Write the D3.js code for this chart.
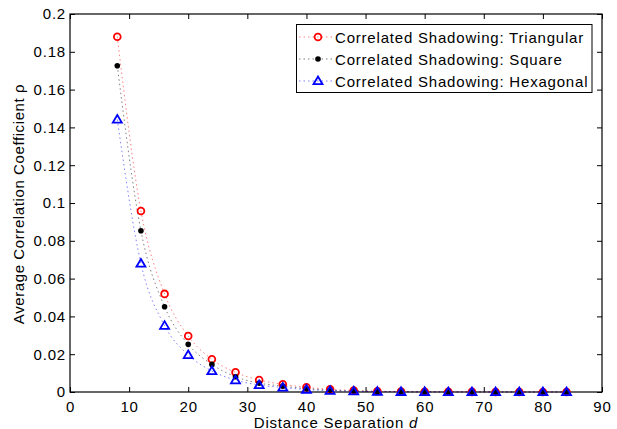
<!DOCTYPE html>
<html>
<head>
<meta charset="utf-8">
<script src="https://cdn.jsdelivr.net/npm/d3@7"></script>
<style>
  body { margin: 0; background: #fff; }
  svg { display: block; font-family: "Liberation Sans", Arial, Helvetica, sans-serif; letter-spacing: 0.8px; }
  .tick-label { font-size: 15px; fill: #000; }
</style>
</head>
<body>
<div id="chart"></div>
<script>
// ── Data ────────────────────────────────────────────────────────────
const distances = [8, 12, 16, 20, 24, 28, 32, 36, 40, 44, 48, 52, 56, 60, 64, 68, 72, 76, 80, 84];
const triangular = [0.188, 0.0958, 0.0519, 0.0296, 0.0173, 0.0104, 0.0063, 0.0041, 0.0025, 0.0014, 0.0008, 0.0004, 0.0002, 0.0001, 0.0001, 0.00005, 0.00003, 0.00002, 0.00001, 0.00001];
const square = [0.1726, 0.0853, 0.0451, 0.0252, 0.0146, 0.0081, 0.0047, 0.0031, 0.0018, 0.001, 0.0005, 0.0003, 0.0002, 0.0001, 0.00005, 0.00003, 0.00002, 0.00001, 0.00001, 0.00001];
const hexagonal = [0.1442, 0.068, 0.0351, 0.0196, 0.0111, 0.0063, 0.0037, 0.0024, 0.0013, 0.0007, 0.0004, 0.0002, 0.0001, 0.00005, 0.00003, 0.00002, 0.00001, 0.00001, 0.00001, 0.00001];
const seriesNames = ['Correlated Shadowing: Triangular', 'Correlated Shadowing: Square', 'Correlated Shadowing: Hexagonal'];
const xTicks = [0, 10, 20, 30, 40, 50, 60, 70, 80, 90];
const yTicks = [0, 0.02, 0.04, 0.06, 0.08, 0.1, 0.12, 0.14, 0.16, 0.18, 0.2];

// ── Layout ──────────────────────────────────────────────────────────
const WIDTH = 617;
const HEIGHT = 429;
const PLOT = {left: 70, right: 602, top: 14, bottom: 392};
const TICK_LEN = 5;

const svg = d3.select('#chart').append('svg')
  .attr('width', WIDTH)
  .attr('height', HEIGHT);

const xScale = d3.scaleLinear().domain([0, 90]).range([PLOT.left, PLOT.right]);
const yScale = d3.scaleLinear().domain([0, 0.2]).range([PLOT.bottom, PLOT.top]);

// axes (ticks inward, on all four sides)
const tickFmt = (d) => d3.format('~g')(d);
svg.append('g')
  .attr('transform', `translate(0,${PLOT.bottom})`)
  .call(d3.axisBottom(xScale).tickValues(xTicks).tickSize(-TICK_LEN).tickPadding(9).tickFormat(tickFmt))
  .call((g) => g.select('.domain').remove());
svg.append('g')
  .attr('transform', `translate(0,${PLOT.top})`)
  .call(d3.axisTop(xScale).tickValues(xTicks).tickSize(-TICK_LEN).tickFormat(''))
  .call((g) => g.select('.domain').remove());
svg.append('g')
  .attr('transform', `translate(${PLOT.left},0)`)
  .call(d3.axisLeft(yScale).tickValues(yTicks).tickSize(-TICK_LEN).tickPadding(4).tickFormat(tickFmt))
  .call((g) => g.select('.domain').remove());
svg.append('g')
  .attr('transform', `translate(${PLOT.right},0)`)
  .call(d3.axisRight(yScale).tickValues(yTicks).tickSize(-TICK_LEN).tickFormat(''))
  .call((g) => g.select('.domain').remove());

svg.selectAll('.tick text')
  .attr('class', 'tick-label')
  .attr('font-family', null)
  .attr('font-size', null);
svg.selectAll('.tick line').attr('stroke', '#000');

svg.append('rect')
  .attr('x', PLOT.left)
  .attr('y', PLOT.top)
  .attr('width', PLOT.right - PLOT.left)
  .attr('height', PLOT.bottom - PLOT.top)
  .attr('fill', 'none')
  .attr('stroke', '#000')
  .attr('stroke-width', 1.2);

// axis labels
const xLabel = svg.append('text')
  .attr('x', (PLOT.left + PLOT.right) / 2)
  .attr('y', 428)
  .attr('text-anchor', 'middle')
  .attr('font-size', 15);
xLabel.append('tspan').text('Distance Separation ');
xLabel.append('tspan').attr('font-style', 'italic').text('d');

svg.append('text')
  .attr('transform', 'translate(24,204) rotate(-90)')
  .attr('text-anchor', 'middle')
  .attr('font-size', 15)
  .attr('letter-spacing', '0.6px')
  .text('Average Correlation Coefficient ρ');

// ── Series ──────────────────────────────────────────────────────────
const series = [
  {name: seriesNames[0], values: triangular, color: '#ff0000', marker: 'circle'},
  {name: seriesNames[1], values: square, color: '#000000', marker: 'dot'},
  {name: seriesNames[2], values: hexagonal, color: '#0000ff', marker: 'triangle'}
];

const line = d3.line()
  .x((d) => xScale(d[0]))
  .y((d) => yScale(d[1]))
  .curve(d3.curveMonotoneX);

function drawMarker(g, type, color)
{
  if(type === 'circle')
  {
    g.append('circle').attr('r', 3.4).attr('fill', 'none').attr('stroke', color).attr('stroke-width', 1.8);
  }
  else if(type === 'dot')
  {
    g.append('circle').attr('r', 2.8).attr('fill', color);
  }
  else
  {
    g.append('path').attr('d', 'M0,-4.5L4.5,3.2L-4.5,3.2Z').attr('fill', 'none').attr('stroke', color).attr('stroke-width', 1.8);
  }
}

const plotArea = svg.append('g');
series.forEach((s) =>
{
  const pts = distances.map((d, i) => [d, s.values[i]]);
  plotArea.append('path')
    .attr('d', line(pts))
    .attr('fill', 'none')
    .attr('stroke', s.color)
    .attr('stroke-opacity', 0.5)
    .attr('stroke-width', 1)
    .attr('stroke-dasharray', '1.5,3');
});
series.forEach((s) =>
{
  distances.forEach((d, i) =>
  {
    const g = plotArea.append('g').attr('transform', `translate(${xScale(d)},${yScale(s.values[i])})`);
    drawMarker(g, s.marker, s.color);
  });
});

// ── Legend ──────────────────────────────────────────────────────────
const legend = svg.append('g');
legend.append('rect')
  .attr('x', 296.5).attr('y', 24.5).attr('width', 295.5).attr('height', 68)
  .attr('fill', '#fff').attr('stroke', '#000').attr('stroke-width', 1);
series.forEach((s, i) =>
{
  const cy = 37 + i * 22;
  legend.append('line')
    .attr('x1', 299).attr('x2', 333).attr('y1', cy).attr('y2', cy)
    .attr('stroke', s.color).attr('stroke-opacity', 0.5)
    .attr('stroke-dasharray', '1.5,3');
  const g = legend.append('g').attr('transform', `translate(318,${cy})`);
  drawMarker(g, s.marker, s.color);
  legend.append('text')
    .attr('x', 335).attr('y', cy + 5.5)
    .attr('font-size', 15)
    .text(s.name);
});
</script>
</body>
</html>
